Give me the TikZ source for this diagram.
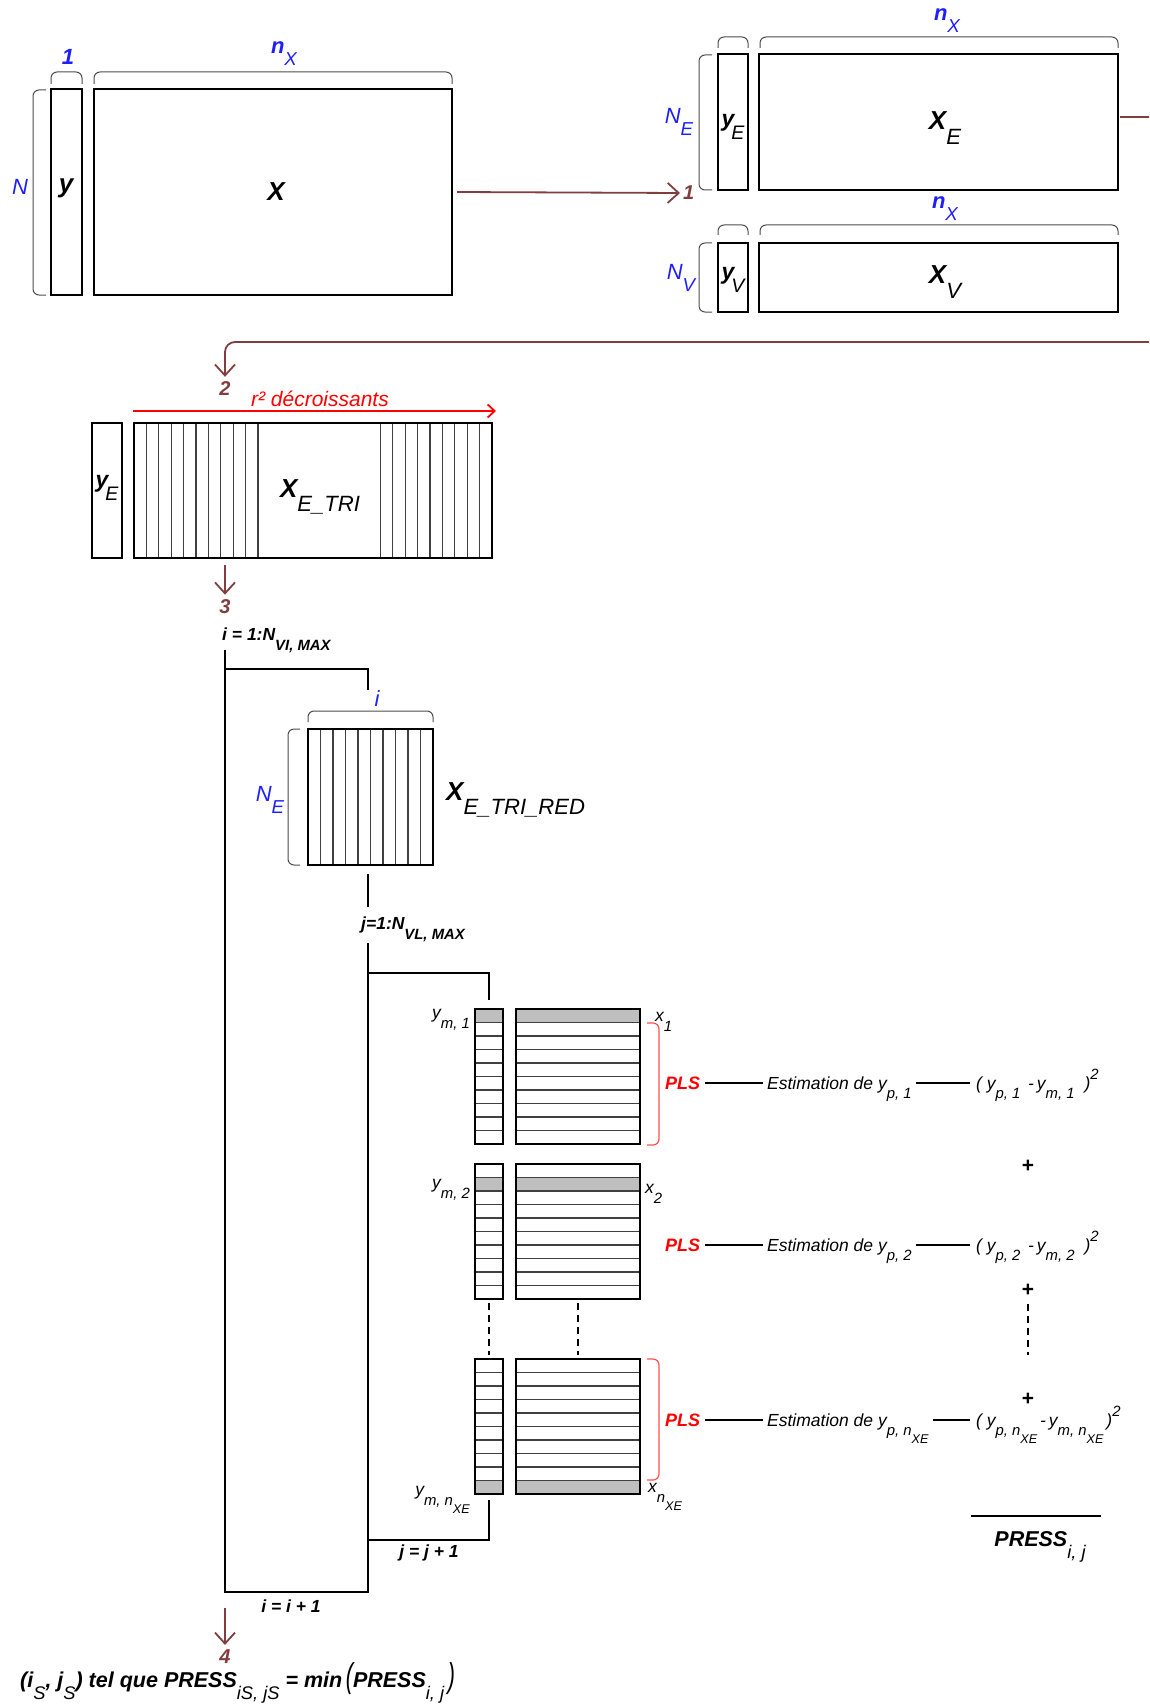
\documentclass[tikz,border=0pt]{standalone}
\usepackage{fontspec}
\setmainfont{Liberation Sans}
\usepackage{graphicx}
\usetikzlibrary{arrows.meta}
\definecolor{drk}{RGB}{128,62,62}
\definecolor{lblue}{RGB}{30,30,255}
\definecolor{plsred}{RGB}{255,80,80}
\newcommand\sbx[1]{\raisebox{-0.55em}{\mdseries\scalebox{0.85}{#1}}}
\newcommand\sbb[1]{\raisebox{-0.55em}{\scalebox{0.85}{#1}}}
\newcommand\spx[1]{\raisebox{0.55em}{\mdseries\scalebox{0.85}{#1}}}
\newcommand\matbox[5]{\node[mat, minimum width={(#4-#2)*1pt}, minimum height={(#5-#3)*1pt}] (#1) at (#2,#3) {};}
\newcommand\blk[3]{%
  \fill[black!25] (475,{#2+13.5*(#3-1)}) rectangle (503,{#2+13.5*#3});
  \fill[black!25] (516,{#2+13.5*(#3-1)}) rectangle (640,{#2+13.5*#3});
  \foreach \k in {1,...,9} {\draw[thinl] (475,{#2+13.5*\k}) -- (503,{#2+13.5*\k});
    \draw[thinl] (516,{#2+13.5*\k}) -- (640,{#2+13.5*\k});}
  \matbox{#1y}{475}{#2}{503}{#2+135}
  \matbox{#1x}{516}{#2}{640}{#2+135}}
\begin{document}
\begin{tikzpicture}[x=1pt,y=-1pt,
  mat/.style={draw, line width=2.4pt, inner sep=0pt, outer sep=0pt, anchor=north west},
  thinl/.style={line width=1.1pt, black!75},
  brace/.style={draw=black!70, line width=1pt, rounded corners=6pt},
  rbrace/.style={draw=plsred, line width=1.2pt, rounded corners=6pt},
  bl/.style={text=lblue, font=\fontsize{22}{22}\selectfont\itshape, inner sep=0pt},
  mn/.style={font=\fontsize{26}{26}\selectfont\bfseries\itshape, inner sep=0pt},
  yn/.style={font=\fontsize{23}{23}\selectfont\bfseries\itshape, inner sep=0pt},
  conn/.style={draw=drk, line width=1.8pt, -{Straight Barb[length=11pt,width=20pt]}},
  num/.style={text=drk, font=\fontsize{20}{20}\selectfont\bfseries\itshape, inner sep=0pt},
  loopl/.style={line width=2pt},
  dsh/.style={line width=2pt, dash pattern=on 7pt off 5pt},
  ll/.style={font=\fontsize{17.5}{17.5}\selectfont\bfseries\itshape, inner sep=0pt},
  plus/.style={font=\fontsize{21}{21}\selectfont\bfseries, inner sep=0pt},
  sm/.style={font=\fontsize{17.5}{17.5}\selectfont\itshape, inner sep=0pt},
  pls/.style={text=red, font=\fontsize{18}{18}\selectfont\bfseries\itshape, inner sep=0pt},
  rt/.style={text=red, font=\fontsize{21}{21}\selectfont\itshape, inner sep=0pt},
  bt/.style={font=\fontsize{21.5}{21.5}\selectfont\bfseries\itshape, inner sep=0pt}]
\useasboundingbox (0,0) rectangle (1149,1704);
\clip (0,0) rectangle (1149,1704);

% ---- top left
\matbox{y0}{51}{89}{82}{295}
\matbox{X0}{94}{89}{452}{295}
\draw[brace] (51,84) -- (51,72) -- (82,72) -- (82,84);
\draw[brace] (94,84) -- (94,72) -- (452,72) -- (452,84);
\draw[brace] (46,90) -- (33,90) -- (33,295) -- (46,295);
\node[bl] (l1) at (68,57) {\bfseries 1};
\node[bl] (lnx) at (284,54) {\textbf{n}\sbx{X}};
\node[bl] (lN) at (20,187) {N};
\node[mn] (ty) at (66,188) {y};
\node[mn] (tX) at (276,192) {X};

% ---- top right
\matbox{yE}{718}{54}{748}{190}
\matbox{XE}{759}{54}{1118}{190}
\matbox{yV}{718}{243}{748}{312}
\matbox{XV}{759}{243}{1118}{312}
\draw[brace] (718,48) -- (718,37) -- (748,37) -- (748,48);
\draw[brace] (760,48) -- (760,37) -- (1118,37) -- (1118,48);
\draw[brace] (718,235) -- (718,225) -- (748,225) -- (748,235);
\draw[brace] (760,235) -- (760,225) -- (1118,225) -- (1118,235);
\draw[brace] (712,55) -- (699,55) -- (699,190) -- (712,190);
\draw[brace] (712,243) -- (699,243) -- (699,312) -- (712,312);
\node[bl] (lnx2) at (947,21) {\textbf{n}\sbx{X}};
\node[bl] (lNE) at (679,122) {N\sbx{E}};
\node[yn] (tyE) at (733,127) {y\kern-3pt\sbx{E}};
\node[mn] (tXE) at (945,128) {X\sbx{E}};
\node[bl] (lnx3) at (945,209) {\textbf{n}\sbx{X}};
\node[bl] (lNV) at (681,278) {N\sbx{V}};
\node[yn] (tyV) at (733,280) {y\kern-3pt\sbx{V}};
\node[mn] (tXV) at (945,282) {X\sbx{V}};

% ---- connectors 1 and 2
\node[num, anchor=west] (n1) at (683,193) {1};
\draw[conn] ([xshift=5pt]X0.east) -- ([xshift=-3pt]n1.west);
\node[num] (n2) at (225,389) {2};
\draw[conn, rounded corners=10pt] ([xshift=2pt,yshift=5pt]XE.east) -- (1170,117) -- (1170,342) -- (225,342) -- ([yshift=5pt]n2.north);

% ---- sorted block
\matbox{yE2}{92}{423}{122}{558}
\foreach \k in {1,...,10} \draw[thinl] ({134+12.4*\k},423) -- ({134+12.4*\k},558);
\foreach \k in {1,...,9} \draw[thinl] ({492-12.4*\k},423) -- ({492-12.4*\k},558);
\matbox{XT}{134}{423}{492}{558}
\coordinate (r0) at (133,411);
\coordinate (r1) at (496,411);
\draw[red, line width=1.8pt, -{Straight Barb[length=7pt,width=13pt]}] (r0) -- (r1);
\node[rt] (rl) at (320,399) {r² décroissants};
\node[yn] (tyE2) at (107,488) {y\kern-3pt\sbx{E}};
\node[mn] (tXT) at (320,497) {X\sbx{E\_TRI}};

\coordinate (c3) at (225,565);
\node[num] (n3) at (225,607) {3};
\draw[conn] (c3) -- ([yshift=5pt]n3.north);

% ---- outer loop
\node[ll, anchor=west] (iloop) at (222,640) {i = 1:N\sbb{VI, MAX}};
\coordinate (o1) at (225,650);
\coordinate (o2) at (225,1592);
\coordinate (o3) at (368,1592);
\coordinate (o4) at (368,943);
\coordinate (o5) at (225,669);
\coordinate (o6) at (368,669);
\coordinate (o7) at (368,690);
\coordinate (o8) at (368,874);
\coordinate (o9) at (368,907);
\draw[loopl] (o1) -- (o2) -- (o3) -- (o4);
\draw[loopl] (o5) -- (o6) -- (o7);
\draw[loopl] (o8) -- (o9);

% ---- reduced block
\foreach \k in {1,...,9} \draw[thinl] ({308+12.5*\k},729) -- ({308+12.5*\k},865);
\matbox{XR}{308}{729}{433}{865}
\draw[brace] (308,722) -- (308,711) -- (433,711) -- (433,722);
\draw[brace] (300,729) -- (288,729) -- (288,865) -- (300,865);
\node[bl] (li) at (377,699) {i};
\node[bl] (lNE2) at (270,800) {N\sbx{E}};
\node[mn, anchor=west] (tXR) at (446,800) {X\sbx{E\_TRI\_RED}};

% ---- inner loop
\node[ll, anchor=west] (jloop) at (361,929) {j=1:N\sbb{VL, MAX}};
\coordinate (j1) at (368,973);
\coordinate (j2) at (489,973);
\coordinate (j3) at (489,1000);
\coordinate (j4) at (489,1500);
\coordinate (j5) at (489,1540);
\coordinate (j6) at (368,1540);
\draw[loopl] (j1) -- (j2) -- (j3);
\draw[loopl] (j4) -- (j5) -- (j6);
\node[ll] (jinc) at (429,1553) {j = j + 1};
\node[ll] (iinc) at (291,1606) {i = i + 1};

% ---- blocks
\blk{bA}{1009}{1}
\blk{bB}{1164}{2}
\blk{bC}{1359}{10}
\draw[dsh, shorten >=4pt, shorten <=4pt] (bBy.south) -- (bCy.north);
\draw[dsh, shorten >=4pt, shorten <=4pt] (bBx.south) -- (bCx.north);
\draw[rbrace] (647,1023) -- (659,1023) -- (659,1145) -- (647,1145);
\draw[rbrace] (647,1359) -- (659,1359) -- (659,1480) -- (647,1480);

\node[sm, anchor=east] (ym1) at (470,1020) {y\sbx{m, 1}};
\node[sm, anchor=west] (x1l) at (655,1022) {x\sbx{1}};
\node[sm, anchor=east] (ym2) at (470,1190) {y\sbx{m, 2}};
\node[sm, anchor=west] (x2l) at (645,1194) {x\sbx{2}};
\node[sm, anchor=east] (ym3) at (470,1500) {y\sbx{m, n\sbx{XE}}};
\node[sm, anchor=west] (x3l) at (648,1497) {x\sbx{n\sbx{XE}}};

% ---- PLS rows
\node[pls, anchor=west] (p1) at (665,1083) {PLS};
\node[sm, anchor=base west] (e1) at (767,1089) {Estimation de y\sbx{p, 1}};
\node[sm, anchor=base west] (f1) at (976,1089) {( y\sbx{p, 1}~\,-\,y\sbx{m, 1}\hspace{10pt})\spx{2}};
\draw[loopl, shorten <=5pt, shorten >=4pt] (p1.east) -- (p1.east -| e1.west);
\draw[loopl, shorten <=4pt, shorten >=6pt] (p1.east -| e1.east) -- (p1.east -| f1.west);

\node[pls, anchor=west] (p2) at (665,1245) {PLS};
\node[sm, anchor=base west] (e2) at (767,1251) {Estimation de y\sbx{p, 2}};
\node[sm, anchor=base west] (f2) at (976,1251) {( y\sbx{p, 2}~\,-\,y\sbx{m, 2}\hspace{10pt})\spx{2}};
\draw[loopl, shorten <=5pt, shorten >=4pt] (p2.east) -- (p2.east -| e2.west);
\draw[loopl, shorten <=4pt, shorten >=6pt] (p2.east -| e2.east) -- (p2.east -| f2.west);

\node[pls, anchor=west] (p3) at (665,1420) {PLS};
\node[sm, anchor=base west] (e3) at (767,1426) {Estimation de y\sbx{p, n\sbx{XE}}};
\node[sm, anchor=base west] (f3) at (976,1426) {( y\sbx{p, n\sbx{XE}}\,-\,y\sbx{m, n\sbx{XE}}\,)\spx{2}};
\draw[loopl, shorten <=5pt, shorten >=4pt] (p3.east) -- (p3.east -| e3.west);
\draw[loopl, shorten <=4pt, shorten >=6pt] (p3.east -| e3.east) -- (p3.east -| f3.west);

\node[plus] (pl1) at (1028,1166) {+};
\node[plus] (pl2) at (1028,1290) {+};
\node[plus] (pl3) at (1028,1399) {+};
\coordinate (d1) at (1028,1304);
\coordinate (d2) at (1028,1355);
\draw[dsh] (d1) -- (d2);

\coordinate (s1) at (971,1516);
\coordinate (s2) at (1101,1516);
\draw[loopl] (s1) -- (s2);
\node[bt] (press) at (1040,1547) {PRESS\sbx{i, j}};

% ---- final
\coordinate (c4) at (225,1608);
\node[num] (n4) at (225,1657) {4};
\draw[conn] (c4) -- ([yshift=5pt]n4.north);
\node[bt, anchor=west] (res) at (20,1683) {(i\sbx{S}, j\sbx{S}) tel que PRESS\sbx{iS, jS} = min\,\scalebox{1}[1.6]{\mdseries(}PRESS\sbx{i, j}\,\scalebox{1}[1.6]{\mdseries)}};
\end{tikzpicture}
\end{document}
